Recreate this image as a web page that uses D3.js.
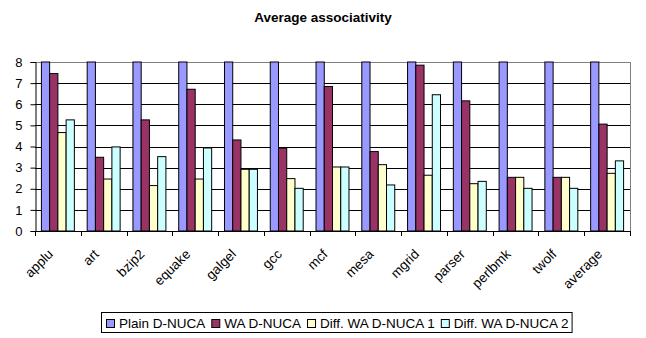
<!DOCTYPE html>
<html>
<head>
<meta charset="utf-8">
<script src="https://cdn.jsdelivr.net/npm/d3@7"></script>
<style>
  html, body { margin: 0; padding: 0; background: #fff; }
  svg { display: block; font-family: "Liberation Sans", Arial, sans-serif; }
</style>
</head>
<body>
<svg id="chart" width="646" height="338"></svg>
<script>
// Benchmarks on the x axis
const categories = ["applu", "art", "bzip2", "equake", "galgel", "gcc", "mcf",
                    "mesa", "mgrid", "parser", "perlbmk", "twolf", "average"];

// Series names and their values (average associativity)
const seriesNames = ["Plain D-NUCA", "WA D-NUCA", "Diff. WA D-NUCA 1", "Diff. WA D-NUCA 2"];
const plainDNUCA = [8, 8, 8, 8, 8, 8, 8, 8, 8, 8, 8, 8, 8];
const waDNUCA    = [7.45, 3.49, 5.26, 6.71, 4.31, 3.92, 6.84, 3.76, 7.85, 6.16, 2.54, 2.54, 5.06];
const diffWA1    = [4.66, 2.46, 2.15, 2.46, 2.92, 2.48, 3.03, 3.14, 2.64, 2.24, 2.54, 2.54, 2.73];
const diffWA2    = [5.26, 3.98, 3.52, 3.93, 2.92, 2.02, 3.03, 2.18, 6.45, 2.35, 2.02, 2.02, 3.32];
const seriesValues = [plainDNUCA, waDNUCA, diffWA1, diffWA2];

const yTicks = [0, 1, 2, 3, 4, 5, 6, 7, 8];
const colors = ["#9999FF", "#993366", "#FFFFCC", "#CCFFFF"];

const svg = d3.select("#chart");
const plot = { left: 35, right: 630, top: 62, bottom: 231 };

const x0 = d3.scaleBand().domain(categories).range([plot.left, plot.right]).padding(0);
const bw = x0.bandwidth();
const x1 = d3.scaleBand().domain(d3.range(seriesNames.length))
  .range([bw * 0.14, bw * 0.86]).padding(0);
const y = d3.scaleLinear().domain([0, 8]).range([plot.bottom, plot.top]);

// Title
svg.append("text")
  .attr("x", 323).attr("y", 22)
  .attr("text-anchor", "middle")
  .attr("font-size", 13.5).attr("font-weight", "bold")
  .text("Average associativity");

// Horizontal gridlines
svg.append("g").selectAll("line")
  .data(yTicks.filter(d => d > 0))
  .join("line")
  .attr("x1", plot.left).attr("x2", plot.right)
  .attr("y1", d => Math.round(y(d)) + 0.5).attr("y2", d => Math.round(y(d)) + 0.5)
  .attr("stroke", d => d === 8 ? "#808080" : "#000")
  .attr("stroke-width", 1);

// Right border of the plot area
svg.append("line")
  .attr("x1", plot.right + 0.5).attr("x2", plot.right + 0.5)
  .attr("y1", plot.top).attr("y2", plot.bottom)
  .attr("stroke", "#808080");

// Bars
const groups = svg.append("g").selectAll("g")
  .data(categories)
  .join("g")
  .attr("transform", d => `translate(${x0(d)},0)`);

groups.selectAll("rect")
  .data((d, i) => seriesValues.map((vals, s) => ({ s, v: vals[i] })))
  .join("rect")
  .attr("x", d => x1(d.s))
  .attr("y", d => y(d.v))
  .attr("width", x1.bandwidth())
  .attr("height", d => y(0) - y(d.v))
  .attr("fill", d => colors[d.s])
  .attr("stroke", "#000")
  .attr("stroke-width", 1);

// Y axis
const yAxis = d3.axisLeft(y).tickValues(yTicks).tickSize(5).tickPadding(8)
  .tickFormat(d3.format("d"));
const gy = svg.append("g")
  .attr("transform", `translate(${plot.left + 0.5},0)`)
  .call(yAxis);
gy.select(".domain").attr("stroke", "#000");
gy.selectAll(".tick line").attr("stroke", "#000");
gy.selectAll(".tick text")
  .attr("font-size", 13).attr("fill", "#000")
  .attr("font-family", "Liberation Sans, Arial, sans-serif");

// X axis line with ticks at group boundaries
svg.append("line")
  .attr("x1", plot.left).attr("x2", plot.right + 1)
  .attr("y1", plot.bottom + 0.5).attr("y2", plot.bottom + 0.5)
  .attr("stroke", "#000");
const boundaries = categories.map(c => x0(c)).concat([x0(categories[categories.length - 1]) + bw]);
svg.append("g").selectAll("line")
  .data(boundaries)
  .join("line")
  .attr("x1", d => Math.round(d) + 0.5).attr("x2", d => Math.round(d) + 0.5)
  .attr("y1", plot.bottom).attr("y2", plot.bottom + 5)
  .attr("stroke", "#000");

// Rotated category labels
svg.append("g").selectAll("text")
  .data(categories)
  .join("text")
  .attr("transform", d => `translate(${x0(d) + bw / 2 - 4},${plot.bottom + 24}) rotate(-45)`)
  .attr("text-anchor", "end")
  .attr("font-size", 13.5)
  .text(d => d);

// Legend
const legend = svg.append("g");
const legendBox = legend.append("rect")
  .attr("fill", "#fff").attr("stroke", "#000").attr("stroke-width", 1);
let lx = 0;
const items = legend.selectAll("g.item")
  .data(seriesNames)
  .join("g").attr("class", "item");
items.each(function (name, i) {
  const g = d3.select(this);
  g.append("rect")
    .attr("x", 0.5).attr("y", -8.5)
    .attr("width", 8).attr("height", 8)
    .attr("fill", colors[i]).attr("stroke", "#000");
  const t = g.append("text")
    .attr("x", 13).attr("y", 0)
    .attr("font-size", 13.5)
    .text(name);
  g.attr("transform", `translate(${lx},0)`);
  lx += 13 + t.node().getComputedTextLength() + 6;
});
const legendWidth = lx - 6;
const legendX = Math.round(337 - legendWidth / 2);
legend.attr("transform", `translate(${legendX},328)`);
legendBox
  .attr("x", -4.5).attr("y", -15.5)
  .attr("width", legendWidth + 8).attr("height", 20);
</script>
</body>
</html>
